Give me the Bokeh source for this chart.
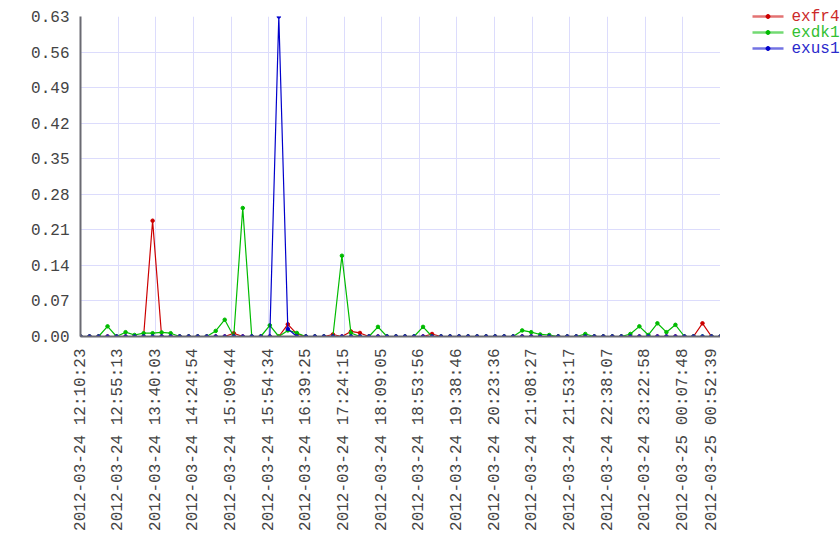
import math
import pandas as pd
from bokeh.plotting import figure
from bokeh.layouts import row, column
from bokeh.models import (ColumnDataSource, Range1d, FixedTicker, DatetimeTickFormatter,
                          PrintfTickFormatter)
from bokeh.core.properties import value
from bokeh.embed import file_html
from bokeh.resources import INLINE

# ---------------- data ----------------
start_time = "2012-03-24 12:10:23"
end_time = "2012-03-25 00:52:39"
n_samples = 72

x_tick_labels = [
    "2012-03-24 12:10:23", "2012-03-24 12:55:13", "2012-03-24 13:40:03",
    "2012-03-24 14:24:54", "2012-03-24 15:09:44", "2012-03-24 15:54:34",
    "2012-03-24 16:39:25", "2012-03-24 17:24:15", "2012-03-24 18:09:05",
    "2012-03-24 18:53:56", "2012-03-24 19:38:46", "2012-03-24 20:23:36",
    "2012-03-24 21:08:27", "2012-03-24 21:53:17", "2012-03-24 22:38:07",
    "2012-03-24 23:22:58", "2012-03-25 00:07:48", "2012-03-25 00:52:39",
]
y_ticks = [0.00, 0.07, 0.14, 0.21, 0.28, 0.35, 0.42, 0.49, 0.56, 0.63]

series_names = ["exfr4", "exdk1", "exus1"]

exfr4 = [
    0, 0, 0, 0, 0, 0, 0, 0, 0.228, 0, 0, 0,
    0, 0, 0, 0, 0, 0.0065, 0, 0, 0, 0, 0, 0.024,
    0.005, 0, 0, 0, 0.004, 0, 0.010, 0.007, 0, 0, 0, 0,
    0, 0, 0, 0.005, 0, 0, 0, 0, 0, 0, 0, 0,
    0, 0, 0, 0, 0, 0, 0, 0, 0, 0, 0, 0,
    0, 0, 0, 0, 0, 0, 0, 0, 0, 0.026, 0, 0,
]
exdk1 = [
    0, 0, 0, 0.020, 0, 0.0085, 0.003, 0.0065, 0.0065, 0.008, 0.0065, 0,
    0, 0, 0, 0.011, 0.033, 0, 0.253, 0, 0, 0.022, 0, 0.012,
    0.007, 0, 0, 0, 0, 0.159, 0.007, 0, 0, 0.019, 0, 0,
    0, 0, 0.019, 0, 0, 0, 0, 0, 0, 0, 0, 0,
    0, 0.012, 0.0085, 0.004, 0.003, 0, 0, 0, 0.005, 0, 0, 0,
    0, 0.005, 0.020, 0.003, 0.026, 0.0085, 0.023, 0, 0, 0, 0, 0,
]
exus1 = [
    0, 0, 0, 0, 0, 0, 0, 0, 0, 0, 0, 0,
    0, 0, 0, 0, 0, 0, 0, 0, 0, 0, 0.63, 0.015,
    0, 0, 0, 0, 0, 0, 0, 0, 0, 0, 0, 0,
    0, 0, 0, 0, 0, 0, 0, 0, 0, 0, 0, 0,
    0, 0, 0, 0, 0, 0, 0, 0, 0, 0, 0, 0,
    0, 0, 0, 0, 0, 0, 0, 0, 0, 0, 0, 0,
]

line_colors = ["#cc0000", "#00bb00", "#0000cc"]
label_colors = ["#cc2a2a", "#33c033", "#2a2acc"]

# ---------------- main chart ----------------
times = pd.date_range(pd.Timestamp(start_time), pd.Timestamp(end_time), periods=n_samples)
tick_ms = [int(pd.Timestamp(t).value // 10**6) for t in x_tick_labels]

p = figure(
    x_axis_type="datetime",
    frame_width=640, frame_height=320,
    min_border_left=80, min_border_right=0,
    min_border_top=16, min_border_bottom=208,
    x_range=Range1d(pd.Timestamp(start_time), pd.Timestamp(end_time)),
    y_range=Range1d(0, 0.63),
    output_backend="svg", toolbar_location=None,
)
p.outline_line_color = None
p.background_fill_color = "white"
p.border_fill_color = "white"

p.grid.grid_line_color = "#dcdcfc"
p.grid.grid_line_width = 1

p.xaxis.ticker = FixedTicker(ticks=tick_ms)
fmt = "%Y-%m-%d %H:%M:%S"
p.xaxis.formatter = DatetimeTickFormatter(
    microseconds=fmt, milliseconds=fmt, seconds=fmt, minsec=fmt, minutes=fmt,
    hourmin=fmt, hours=fmt, days=fmt, months=fmt, years=fmt)
p.yaxis.ticker = FixedTicker(ticks=y_ticks)
p.yaxis.formatter = PrintfTickFormatter(format="%.2f")

for ax in (p.xaxis, p.yaxis):
    ax.axis_line_color = "#6a6a72"
    ax.axis_line_width = 2
    ax.major_tick_line_color = None
    ax.minor_tick_line_color = None
    ax.major_label_text_font = "Liberation Mono"
    ax.major_label_text_font_size = "16px"
    ax.major_label_text_color = "#444444"
p.yaxis.major_label_standoff = 5
p.xaxis.major_label_standoff = 6
p.xaxis.major_label_orientation = math.pi / 2

data = {"exfr4": exfr4, "exdk1": exdk1, "exus1": exus1}
for name, color in zip(series_names, line_colors):
    src = ColumnDataSource(dict(x=times, y=data[name]))
    p.line("x", "y", source=src, line_color=color, line_width=1.2)
    p.scatter("x", "y", source=src, size=3.5, fill_color=color, line_color=color)

# ---------------- legend canvas (pixel-unit ranges, y downward) ----------------
q_width, q_height = 120, 544
q = figure(
    width=q_width, height=q_height, min_border=0,
    x_axis_location=None, y_axis_location=None,
    x_range=Range1d(0, q_width), y_range=Range1d(q_height, 0),
    output_backend="svg", toolbar_location=None,
)
q.outline_line_color = None
q.grid.visible = False
q.background_fill_color = "white"
q.border_fill_color = "white"

row_h, first_row = 16, 16
swatch_x0, swatch_len, text_gap = 32, 31, 8
rows_y = [first_row + row_h * i for i in range(len(series_names))]
leg_src = ColumnDataSource(dict(
    y=rows_y, name=series_names, lc=line_colors, tc=label_colors,
    x0=[swatch_x0] * 3, x1=[swatch_x0 + swatch_len] * 3,
    xm=[swatch_x0 + swatch_len / 2] * 3, xt=[swatch_x0 + swatch_len + text_gap] * 3,
))
q.segment(x0="x0", x1="x1", y0="y", y1="y", source=leg_src,
          line_color="lc", line_width=2.5, line_alpha=0.55)
q.scatter(x="xm", y="y", source=leg_src, size=4, fill_color="lc", line_color="lc")
q.text(x="xt", y="y", text="name", source=leg_src, text_color="tc",
       text_font=value("Liberation Mono"), text_font_size=value("16px"),
       text_baseline="middle", text_align="left")

# nesting the legend canvas in a column keeps its frame independent of the chart's
layout = row(p, column(q))
open("out.html", "w").write(file_html(layout, INLINE))
